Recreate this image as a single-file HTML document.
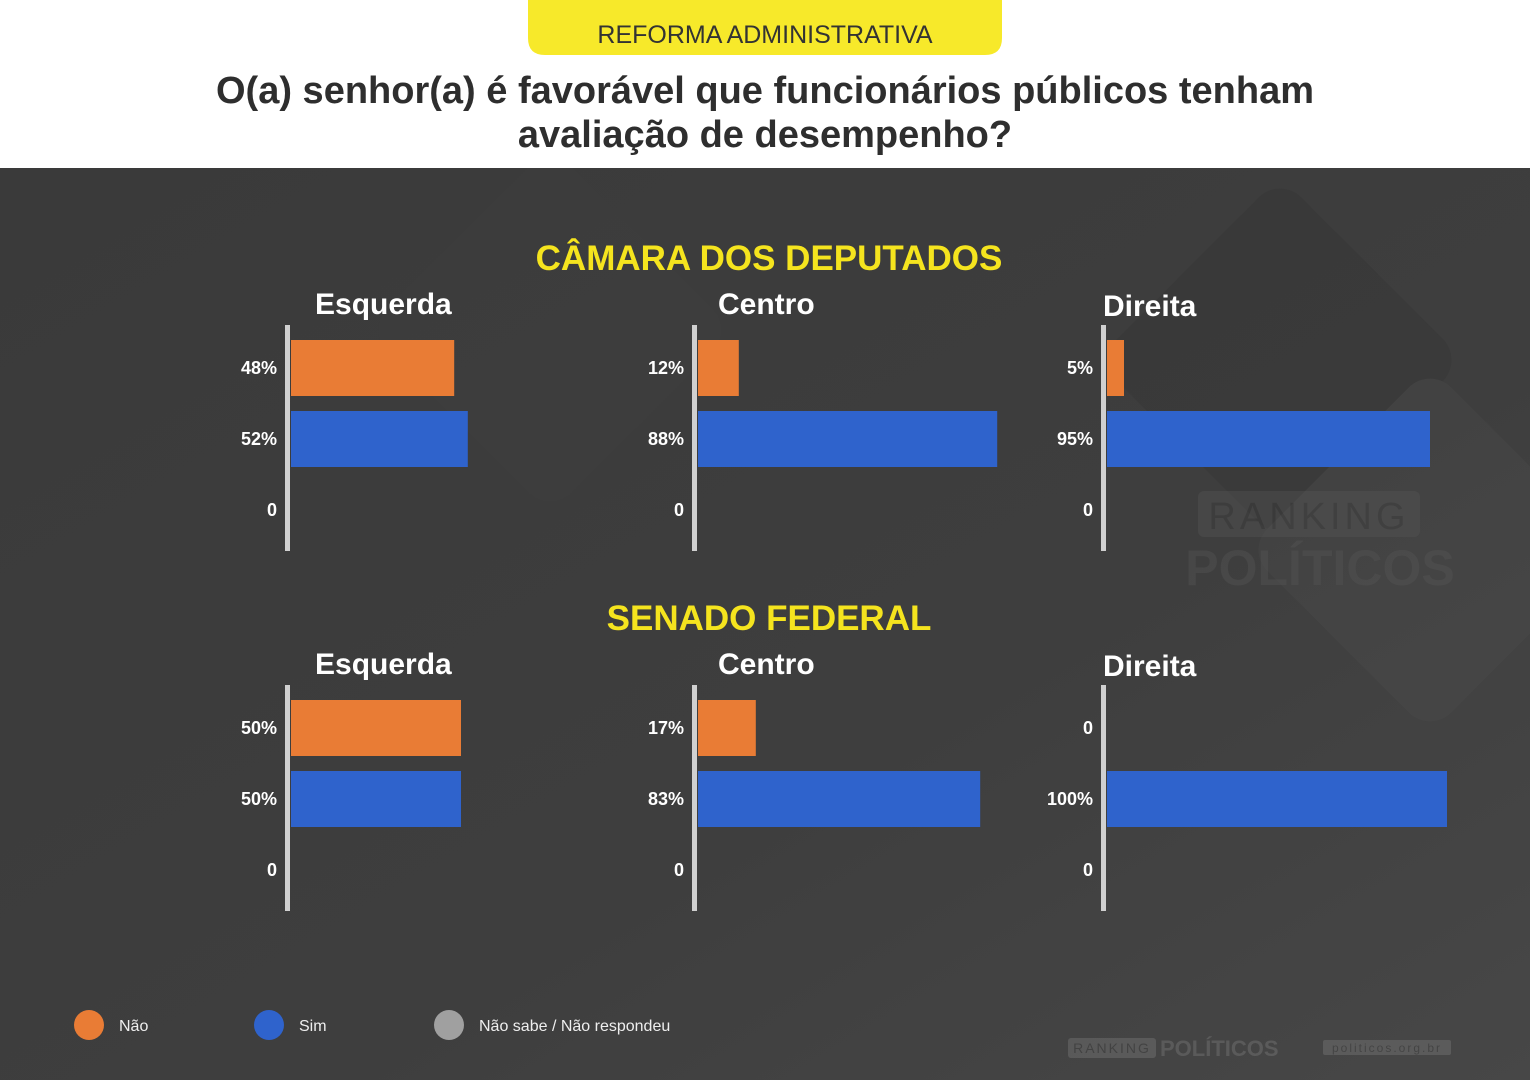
<!DOCTYPE html>
<html><head><meta charset="utf-8">
<style>
html,body{margin:0;padding:0;}
body{width:1530px;height:1080px;overflow:hidden;font-family:"Liberation Sans",sans-serif;}
</style></head>
<body>
<svg id="chart" width="1530" height="1080" xmlns="http://www.w3.org/2000/svg" font-family="Liberation Sans, sans-serif">
  <defs>
    <linearGradient id="bg" x1="0" y1="0" x2="1" y2="1">
      <stop offset="0" stop-color="#3a3a3a"/>
      <stop offset="0.6" stop-color="#3e3e3e"/>
      <stop offset="1" stop-color="#474747"/>
    </linearGradient>
    <clipPath id="bodyclip"><rect x="0" y="168" width="1530" height="912"/></clipPath>
  </defs>
  <rect x="0" y="0" width="1530" height="168" fill="#ffffff"/>
  <rect x="0" y="168" width="1530" height="912" fill="url(#bg)"/>
  <g opacity="0.2" clip-path="url(#bodyclip)">
    <rect x="1150" y="230" width="260" height="260" rx="30" fill="#2e2e2e" transform="rotate(45 1280 360)"/>
    <rect x="1300" y="420" width="260" height="260" rx="30" fill="#555" transform="rotate(45 1430 550)"/>
    <rect x="420" y="200" width="260" height="260" rx="30" fill="#444" transform="rotate(45 550 330)"/>
  </g>
  <g opacity="0.35">
    <rect x="1198" y="491" width="222" height="46" rx="6" fill="#5a5a5a"/>
    <text x="1309" y="529" text-anchor="middle" font-size="38" fill="#3e3e3e" letter-spacing="4">RANKING</text>
    <text x="1320" y="585" text-anchor="middle" font-size="50" font-weight="bold" fill="#5a5a5a">POLÍTICOS</text>
  </g>
  <path d="M528 0 H1002 V38 Q1002 55 985 55 H545 Q528 55 528 38 Z" fill="#f7e92a"/>
  <text x="765" y="43" text-anchor="middle" font-size="25" fill="#333">REFORMA ADMINISTRATIVA</text>
  <text x="765" y="103" text-anchor="middle" font-size="38" font-weight="bold" fill="#2e2e2e">O(a) senhor(a) é favorável que funcionários públicos tenham</text>
  <text x="765" y="147" text-anchor="middle" font-size="38" font-weight="bold" fill="#2e2e2e">avaliação de desempenho?</text>
  <text x="769" y="270" text-anchor="middle" font-size="35" font-weight="bold" fill="#f5e41e">CÂMARA DOS DEPUTADOS</text>
  <text x="769" y="630" text-anchor="middle" font-size="35" font-weight="bold" fill="#f5e41e">SENADO FEDERAL</text>
  <g id="panels"></g>
  <g>
    <circle cx="89" cy="1025" r="15" fill="#e97c35"/>
    <text x="119" y="1031" font-size="16" fill="#eee">Não</text>
    <circle cx="269" cy="1025" r="15" fill="#2f63cc"/>
    <text x="299" y="1031" font-size="16" fill="#eee">Sim</text>
    <circle cx="449" cy="1025" r="15" fill="#a0a0a0"/>
    <text x="479" y="1031" font-size="16" fill="#eee">Não sabe / Não respondeu</text>
  </g>
  <g opacity="0.45">
    <rect x="1068" y="1038" width="88" height="20" rx="3" fill="#777"/>
    <text x="1112" y="1053" text-anchor="middle" font-size="14" fill="#444" letter-spacing="2">RANKING</text>
    <text x="1160" y="1056" font-size="22" font-weight="bold" fill="#777">POLÍTICOS</text>
    <rect x="1323" y="1040" width="128" height="15" rx="2" fill="#777"/>
    <text x="1387" y="1052" text-anchor="middle" font-size="12" fill="#444" letter-spacing="2">politicos.org.br</text>
  </g>
</svg>
<script>
const groups = ["Esquerda", "Centro", "Direita"];
const camaraNao = [48, 12, 5];
const camaraSim = [52, 88, 95];
const camaraNs = [0, 0, 0];
const senadoNao = [50, 17, 0];
const senadoSim = [50, 83, 100];
const senadoNs = [0, 0, 0];

const NS = "http://www.w3.org/2000/svg";
const panelsG = document.getElementById("panels");
const axisX = [288, 695, 1104];
const titleOffset = [27, 23, -1];
const pxPerPct = 3.4;
function xScale(i, v){ return axisX[i] + 3 + v * pxPerPct; }
function mk(tag, attrs){ const e = document.createElementNS(NS, tag); for (const k in attrs) e.setAttribute(k, attrs[k]); return e; }
function fmt(v){ return v === 0 ? "0" : v + "%"; }

function drawSection(prefix, top, nao, sim, ns){
  groups.forEach((g, i) => {
    const ax = axisX[i];
    const title = mk("text", {x: ax + titleOffset[i], y: top - 11 + (i === 2 ? 2 : 0), "font-size": 30, "font-weight": "bold", fill: "#fff"});
    
    
    title.textContent = g;
    panelsG.appendChild(title);
    const axis = mk("rect", {x: ax - 3, y: top, width: 5, height: 226, fill: "#d0d0d0"});
    
    
    panelsG.appendChild(axis);
    const vals = [nao[i], sim[i], ns[i]];
    const colors = ["#e97c35", "#2f63cc", "#a0a0a0"];
    const keys = ["nao", "sim", "nao-sabe"];
    vals.forEach((v, j) => {
      const cy = top + 43 + j * 71;
      if (v > 0) {
        const bar = mk("rect", {x: ax + 3, y: cy - 28, width: xScale(i, v) - ax - 3, height: 56, fill: colors[j]});
        
        
        panelsG.appendChild(bar);
      }
      const lab = mk("text", {x: ax - 11, y: cy + 6, "text-anchor": "end", "font-size": 18, "font-weight": "bold", fill: "#fff"});
      
      
      lab.textContent = fmt(v);
      panelsG.appendChild(lab);
    });
  });
}
drawSection("camara", 325, camaraNao, camaraSim, camaraNs);
drawSection("senado", 685, senadoNao, senadoSim, senadoNs);
</script>
</body></html>
